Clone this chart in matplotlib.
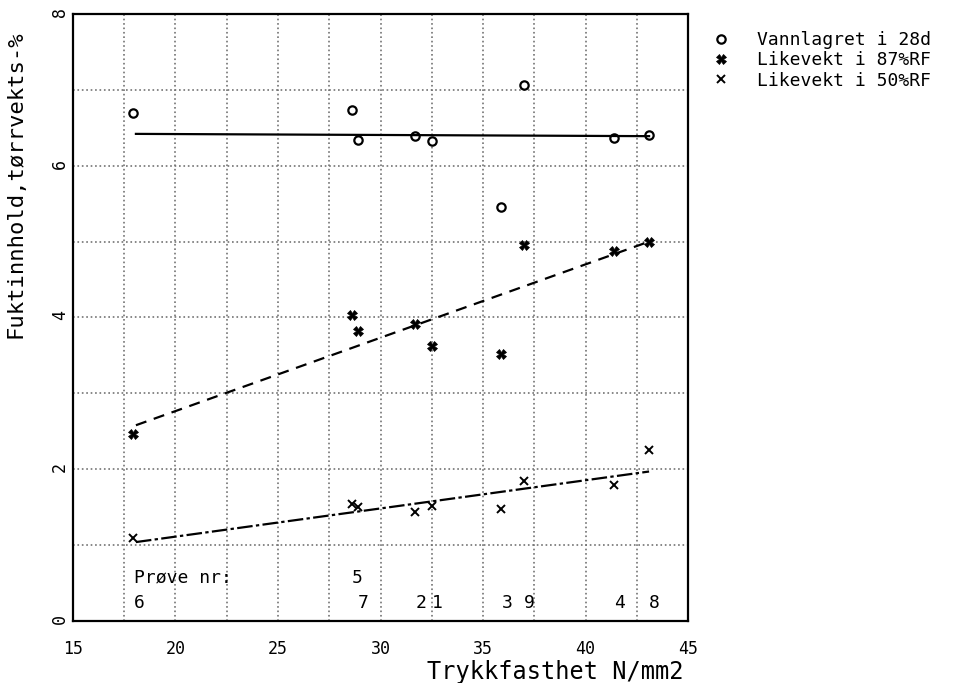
import matplotlib
matplotlib.use("Agg")
import matplotlib.pyplot as plt
import numpy as np

# trykkfasthet per prove (N/mm2), sortert
styrke = [17.95, 28.6, 28.9, 31.7, 32.5, 35.9, 37.0, 41.4, 43.1]
prove_nr = ['6', '5', '7', '2', '1', '3', '9', '4', '8']
prove_rad = [0, 1, 0, 0, 0, 0, 0, 0, 0]

vannlagret = [6.69, 6.73, 6.34, 6.39, 6.32, 5.45, 7.07, 6.36, 6.40]
likevekt_87 = [2.46, 4.03, 3.82, 3.92, 3.63, 3.52, 4.95, 4.87, 5.00]
likevekt_50 = [1.10, 1.54, 1.50, 1.44, 1.51, 1.47, 1.85, 1.79, 2.25]

# trendlinjer, avlest ved start og slutt
trend_x = [18.07, 43.1]
trend_vann = [6.42, 6.39]
trend_87 = [2.58, 5.00]
trend_50 = [1.04, 1.97]

plt.rcParams['font.family'] = ['DejaVu Sans Mono']

fig = plt.figure(figsize=(9.54, 6.83), dpi=100)
ax = fig.add_axes([0.0765, 0.0908, 0.6447, 0.8887])

serier = [
    (vannlagret, trend_vann, 'o', 'Vannlagret i 28d', '-', dict(ms=6, mfc='white', mew=1.6)),
    (likevekt_87, trend_87, 'X', 'Likevekt i 87%RF', (0, (5, 3.5)), dict(ms=6.5, mew=0.5)),
    (likevekt_50, trend_50, 'x', 'Likevekt i 50%RF', (0, (7, 1.5, 1.5, 1.5)), dict(ms=6, mew=1.4)),
]
for verdier, trend, mk, navn, ls, kw in serier:
    ax.plot(styrke, verdier, linestyle='none', marker=mk, color='k', label=navn, **kw)
    ax.plot(trend_x, trend, color='k', linestyle=ls, lw=1.6)

# prove nr
ax.text(18.0, 0.57, 'Prøve nr:', fontsize=13, ha='left', va='center')
for xs, nr, rad in zip(styrke, prove_nr, prove_rad):
    ax.text(xs, 0.24 + 0.33 * rad, nr, fontsize=13, ha='left', va='center')

ax.set_xlim(15, 45)
ax.set_ylim(0, 8)
ax.set_xticks(np.arange(15, 46, 5))
ax.set_yticks([0, 2, 4, 6, 8])
ax.set_xticks(np.arange(17.5, 45, 2.5), minor=True)
ax.set_yticks(np.arange(1, 8, 1), minor=True)
ax.grid(True, which='both', color='0.45', linestyle=':', lw=1.2)
ax.tick_params(which='both', length=0)
ax.tick_params(axis='x', labelsize=12, pad=14)
ax.tick_params(axis='y', labelsize=12, labelrotation=90, pad=3)
for s in ax.spines.values():
    s.set_linewidth(1.6)

ax.set_xlabel('Trykkfasthet N/mm2', fontsize=17)
ax.xaxis.set_label_coords(0.784, -0.064)
ax.set_ylabel('Fuktinnhold,tørrvekts-%', fontsize=16)
ax.yaxis.set_label_coords(-0.078, 0.72)

fig.legend(loc='upper left', bbox_to_anchor=(0.72, 0.978), frameon=False,
           fontsize=13, handletextpad=1.0, labelspacing=0.12, numpoints=1)

fig.savefig('out.png', dpi=100)
